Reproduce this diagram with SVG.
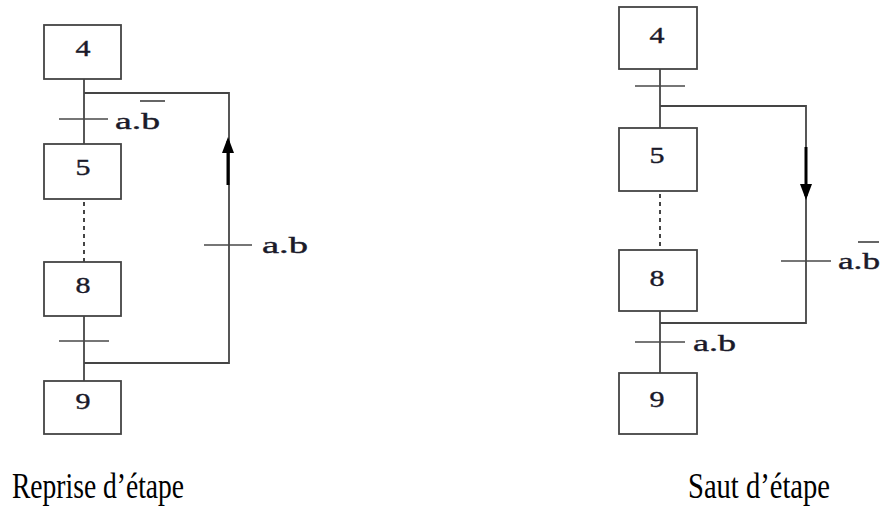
<svg xmlns="http://www.w3.org/2000/svg" width="882" height="510" viewBox="0 0 882 510">
<style>
.step{fill:#fff;stroke:#444;stroke-width:1.8}
.num{font-family:"Liberation Serif","Times New Roman",serif;font-size:24px;fill:#1a1a2a;stroke:#1a1a2a;stroke-width:0.4;text-anchor:middle}
.ln{stroke:#454545;stroke-width:1.8;fill:none}
.dot{stroke:#454545;stroke-width:2;stroke-dasharray:4,4;fill:none}
.bar{stroke:#484848;stroke-width:1.5}
.lbl{font-family:"Liberation Serif","Times New Roman",serif;font-size:24px;fill:#1a1a2a;stroke:#1a1a2a;stroke-width:0.4}
.ovl{stroke:#333;stroke-width:1.5}
.arr{stroke:#000;stroke-width:3;fill:none}
.cap{font-family:"Liberation Serif","Times New Roman",serif;font-size:35px;fill:#000}
</style>
<defs>
<marker id="ah" markerUnits="userSpaceOnUse" markerWidth="16" markerHeight="12" refX="12" refY="6" orient="auto">
<path d="M0,0 L16,6 L0,12 z" fill="#000"/>
</marker>
</defs>
<rect width="882" height="510" fill="#fff"/>
<g id="connectors">
<line class="ln" x1="84" y1="79" x2="84" y2="144"/>
<line class="dot" x1="84" y1="202" x2="84" y2="262"/>
<line class="ln" x1="84" y1="316" x2="84" y2="381"/>
<polyline class="ln" points="84,363 229,363 229,93 84,93"/>
<line class="bar" x1="59" y1="119" x2="108" y2="119"/>
<line class="bar" x1="59" y1="341" x2="109" y2="341"/>
<line class="bar" x1="204" y1="245" x2="252" y2="245"/>
<line class="arr" x1="228" y1="185" x2="228" y2="141" marker-end="url(#ah)"/>
<line class="ln" x1="660" y1="69" x2="660" y2="128"/>
<line class="dot" x1="660" y1="194" x2="660" y2="250"/>
<line class="ln" x1="660" y1="311" x2="660" y2="373"/>
<polyline class="ln" points="660,106 806,106 806,323 660,323"/>
<line class="bar" x1="635" y1="86" x2="685" y2="86"/>
<line class="bar" x1="781" y1="261" x2="831" y2="261"/>
<line class="bar" x1="635" y1="342" x2="685" y2="342"/>
<line class="arr" x1="806" y1="147" x2="806" y2="196" marker-end="url(#ah)"/>
</g>
<g id="labels">
<text class="lbl" x="115" y="129" textLength="45" lengthAdjust="spacingAndGlyphs">a.b</text>
<line class="ovl" x1="140" y1="101" x2="165" y2="101"/>
<text class="lbl" x="262" y="253" textLength="46" lengthAdjust="spacingAndGlyphs">a.b</text>
<text class="lbl" x="838" y="269" textLength="42" lengthAdjust="spacingAndGlyphs">a.b</text>
<line class="ovl" x1="858" y1="242" x2="879" y2="242"/>
<text class="lbl" x="693" y="351" textLength="43" lengthAdjust="spacingAndGlyphs">a.b</text>
</g>
<g id="left-step4"><rect class="step" x="44" y="25" width="77" height="54"/><text class="num" x="83" y="56" textLength="15" lengthAdjust="spacingAndGlyphs">4</text></g>
<g id="left-step5"><rect class="step" x="44" y="144" width="77" height="55"/><text class="num" x="83" y="175" textLength="15" lengthAdjust="spacingAndGlyphs">5</text></g>
<g id="left-step8"><rect class="step" x="44" y="262" width="77" height="54"/><text class="num" x="83" y="293" textLength="15" lengthAdjust="spacingAndGlyphs">8</text></g>
<g id="left-step9"><rect class="step" x="44" y="381" width="77" height="53"/><text class="num" x="83" y="409" textLength="15" lengthAdjust="spacingAndGlyphs">9</text></g>
<g id="right-step4"><rect class="step" x="619" y="7" width="78" height="62"/><text class="num" x="657" y="43" textLength="15" lengthAdjust="spacingAndGlyphs">4</text></g>
<g id="right-step5"><rect class="step" x="619" y="128" width="78" height="63"/><text class="num" x="657" y="163" textLength="15" lengthAdjust="spacingAndGlyphs">5</text></g>
<g id="right-step8"><rect class="step" x="619" y="250" width="78" height="61"/><text class="num" x="657" y="286" textLength="15" lengthAdjust="spacingAndGlyphs">8</text></g>
<g id="right-step9"><rect class="step" x="619" y="373" width="78" height="61"/><text class="num" x="657" y="407" textLength="15" lengthAdjust="spacingAndGlyphs">9</text></g>
<g id="captions">
<text class="cap" x="12" y="498" textLength="172" lengthAdjust="spacingAndGlyphs">Reprise d’étape</text>
<text class="cap" x="688" y="498" textLength="142" lengthAdjust="spacingAndGlyphs">Saut d’étape</text>
</g>
</svg>
